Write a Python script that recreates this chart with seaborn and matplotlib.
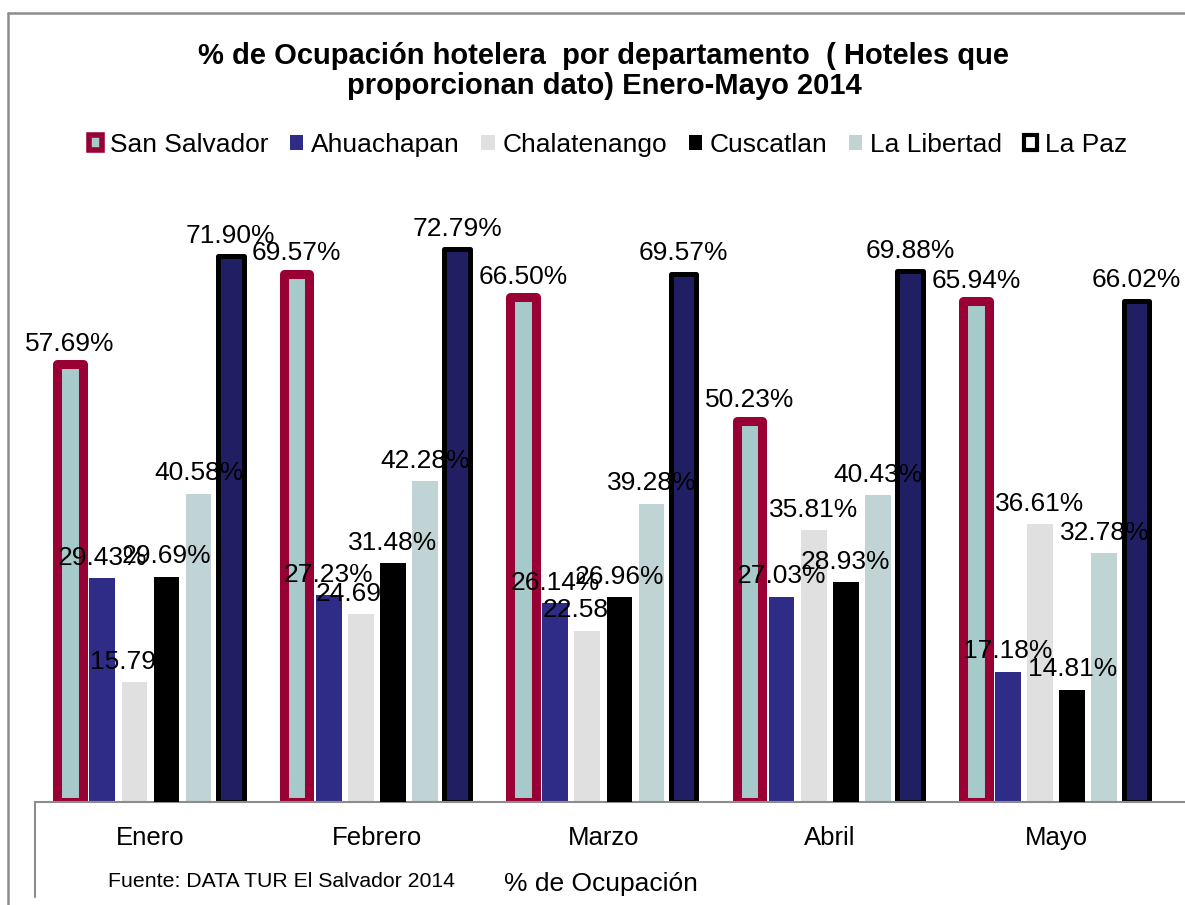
import matplotlib
matplotlib.use("Agg")
import matplotlib.pyplot as plt
from matplotlib.lines import Line2D
from matplotlib.patches import Patch
import pandas as pd
import seaborn as sns

# Datos: % de ocupación por departamento, enero-mayo 2014
meses = ["Enero", "Febrero", "Marzo", "Abril", "Mayo"]
departamentos = ["San Salvador", "Ahuachapan", "Chalatenango", "Cuscatlan", "La Libertad", "La Paz"]
san_salvador = [57.69, 69.57, 66.50, 50.23, 65.94]
ahuachapan = [29.43, 27.23, 26.14, 27.03, 17.18]
chalatenango = [15.79, 24.69, 22.58, 35.81, 36.61]
cuscatlan = [29.69, 31.48, 26.96, 28.93, 14.81]
la_libertad = [40.58, 42.28, 39.28, 40.43, 32.78]
la_paz = [71.90, 72.79, 69.57, 69.88, 66.02]

valores = {
    "San Salvador": san_salvador,
    "Ahuachapan": ahuachapan,
    "Chalatenango": chalatenango,
    "Cuscatlan": cuscatlan,
    "La Libertad": la_libertad,
    "La Paz": la_paz,
}

df = pd.DataFrame(
    [(m, d, valores[d][i]) for d in departamentos for i, m in enumerate(meses)],
    columns=["mes", "departamento", "ocupacion"],
)

# Estilos (relleno, borde, grosor del borde)
relleno = {
    "San Salvador": "#A6C9CA",
    "Ahuachapan": "#2E2C87",
    "Chalatenango": "#E0E0E0",
    "Cuscatlan": "#000000",
    "La Libertad": "#C0D3D5",
    "La Paz": "#201F63",
}
borde = {"San Salvador": ("#990033", 6.5), "La Paz": ("#000000", 3.6)}

sns.set_style("white")
plt.rcParams["font.family"] = ["Liberation Sans", "DejaVu Sans"]
plt.rcParams["text.color"] = "black"
plt.rcParams["xtick.color"] = "black"
plt.rcParams["xtick.labelcolor"] = "black"

W, H = 1185, 905
fig = plt.figure(figsize=(W / 100, H / 100), dpi=100)
ax = fig.add_axes([35 / W, 103 / H, 1150 / W, 622 / H])

sns.barplot(
    data=df, x="mes", y="ocupacion", hue="departamento",
    order=meses, hue_order=departamentos, palette=relleno,
    saturation=1, width=0.851, gap=0.2, errorbar=None,
    legend=False, ax=ax,
)

for cont, dep in zip(ax.containers, departamentos):
    zb = 4 if dep == "Cuscatlan" else 2
    for p in cont:
        p.set_zorder(zb)
        p.set_joinstyle("round")
        if dep in borde:
            p.set_edgecolor(borde[dep][0])
            p.set_linewidth(borde[dep][1])
        else:
            p.set_edgecolor(relleno[dep])
            p.set_linewidth(0)
    zl = 3 if dep == "Chalatenango" else 5
    ax.bar_label(cont, labels=[f"{v:.2f}%" for v in valores[dep]],
                 padding=6, fontsize=19, zorder=zl, color="black")

ax.set_xlim(-0.51, 4.569)
ax.set_ylim(0, 81.9)
ax.set_xlabel("")
ax.set_ylabel("")
ax.set_yticks([])
ax.tick_params(axis="x", length=0, pad=17, labelsize=18.5, labelcolor="black")
for s in ["top", "right", "left"]:
    ax.spines[s].set_visible(False)
ax.spines["bottom"].set_color("#8c8c8c")
ax.spines["bottom"].set_linewidth(1.5)

# Marco exterior y línea del área de trazado
gris = "#8c8c8c"
fig.add_artist(Line2D([8 / W, 8 / W], [0, 1 - 13 / H], color=gris, lw=1.8, transform=fig.transFigure))
fig.add_artist(Line2D([8 / W, 1], [1 - 13 / H, 1 - 13 / H], color=gris, lw=1.8, transform=fig.transFigure))
fig.add_artist(Line2D([35 / W, 35 / W], [103 / H, 8 / H], color=gris, lw=1.5, transform=fig.transFigure))

# Leyenda
handles = []
for dep in departamentos:
    if dep == "San Salvador":
        handles.append(Patch(facecolor=relleno[dep], edgecolor="#990033", linewidth=4))
    elif dep == "La Paz":
        handles.append(Patch(facecolor="white", edgecolor="black", linewidth=3))
    else:
        handles.append(Patch(facecolor=relleno[dep], edgecolor=relleno[dep], linewidth=0))
fig.legend(handles, departamentos, loc="center", bbox_to_anchor=(608 / W, 1 - 145 / H),
           ncol=6, frameon=False, fontsize=19, handlelength=0.5, handleheight=0.5,
           handletextpad=0.3, columnspacing=0.82, labelcolor="black")

fig.text(604 / W, 1 - 71 / H,
         "% de Ocupación hotelera  por departamento  ( Hoteles que\nproporcionan dato) Enero-Mayo 2014",
         ha="center", va="center", fontsize=21, fontweight="bold", linespacing=1.1)
fig.text(281 / W, 1 - 881 / H, "Fuente: DATA TUR El Salvador 2014", ha="center", va="center", fontsize=15.3)
fig.text(601 / W, 1 - 884 / H, "% de Ocupación", ha="center", va="center", fontsize=19)

fig.savefig("out.png", dpi=100)
